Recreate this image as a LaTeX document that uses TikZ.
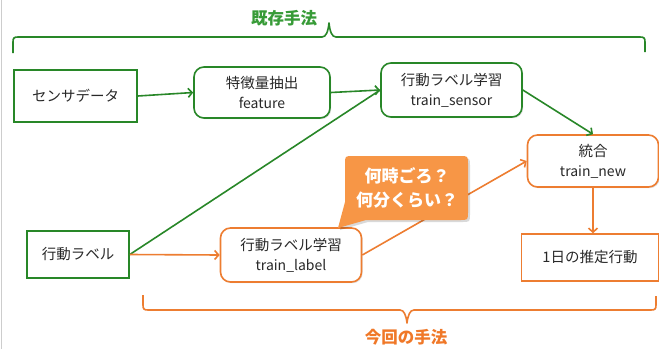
\documentclass[tikz,border=0pt]{standalone}
\usepackage{fontspec}
\setmainfont{Noto Sans CJK JP}
\usetikzlibrary{arrows.meta,shadows}
\definecolor{gline}{RGB}{40,135,40}
\definecolor{gtext}{RGB}{55,155,55}
\definecolor{oline}{RGB}{237,125,49}
\definecolor{ofill}{RGB}{247,150,70}
\definecolor{otext}{RGB}{240,120,40}
\definecolor{txt}{RGB}{40,40,40}
\newcommand{\jp}{\fontsize{14.5}{20}\selectfont}
\newcommand{\lt}{\fontsize{14}{20}\selectfont}
\tikzset{
  box/.style={draw, line width=1.6pt, fill=white, text=txt, align=center, inner sep=0pt,
    font=\jp,
    drop shadow={shadow xshift=1.2pt, shadow yshift=-1.2pt, opacity=0.25}},
  gbox/.style={box, draw=gline},
  obox/.style={box, draw=oline},
  rbox/.style={rounded corners=10pt},
  garrow/.style={draw=gline, line width=1.6pt, -{Straight Barb[length=4pt,width=9pt]}},
  oarrow/.style={draw=oline, line width=1.6pt, -{Straight Barb[length=4pt,width=9pt]}},
  gplain/.style={draw=gline, line width=1.6pt},
  brace/.style={line width=1.6pt, line join=round}
}
\begin{document}
\begin{tikzpicture}[x=1pt,y=-1pt]
\useasboundingbox (0,0) rectangle (659,349);
\fill[white] (0,0) rectangle (659,349);
\draw[line width=1pt, color={rgb,255:red,205;green,205;blue,205}] (1.5,0) -- (1.5,349);

% braces
\draw[brace, gline] (13,53) -- (13,42) .. controls (13,38) and (14,37) .. (18,37) -- (322,37)
  .. controls (326,37) and (328,32) .. (329,23) .. controls (330,32) and (332,37) .. (336,37)
  -- (640,37) .. controls (644,37) and (645,38) .. (645,42) -- (645,52);
\node[text=gtext, font=\fontsize{16.5}{20}\selectfont\bfseries] (t1) at (284,18) {既存手法};

\draw[brace, oline] (143,295) -- (143,305) .. controls (143,309) and (144,310) .. (148,310) -- (400,310)
  .. controls (404,310) and (406,315) .. (407,323) .. controls (408,315) and (410,310) .. (414,310)
  -- (651,310) .. controls (655,310) and (656,309) .. (656,305) -- (656,296);
\node[text=otext, font=\fontsize{16.5}{20}\selectfont\bfseries] (t2) at (406,337) {今回の手法};

% nodes
\node[gbox, minimum width=123pt, minimum height=52pt] (sensor) at (75.5,96) {センサデータ};
\node[gbox, minimum width=102pt, minimum height=47pt] (label) at (78,254.5) {行動ラベル};
\node[gbox, rbox, minimum width=136pt, minimum height=51pt] (feature) at (262,92.5) {特徴量抽出\\\lt feature};
\node[gbox, rbox, minimum width=141pt, minimum height=54pt] (tsensor) at (451.5,90) {行動ラベル学習\\\lt train\_sensor};
\node[obox, rbox, minimum width=131pt, minimum height=52pt] (tnew) at (593,161) {統合\\\lt train\_new};
\node[obox, minimum width=137pt, minimum height=47pt] (day) at (590,257.5) {1日の推定行動};
\node[obox, rbox, minimum width=141pt, minimum height=54pt] (tlabel) at (291,255) {行動ラベル学習\\\lt train\_label};

% connectors
\draw[garrow] (sensor.east) -- (feature.west);
\draw[garrow] (feature.east) -- (tsensor.west);
\draw[gplain] (label.east) -- (tsensor.west);
\draw[garrow] (tsensor.east) -- (tnew.north);
\draw[oarrow] (label.east) -- (tlabel.west);
\draw[oarrow] (tlabel.east) -- (tnew.west);
\draw[oarrow] (tnew.south) -- (tnew.south |- day.north);

% callout
\fill[black, opacity=0.15] (347,158) -- (462,158) .. controls (470,158) and (470,158) .. (470,166)
  -- (470,214) .. controls (470,222) and (470,222) .. (462,222) -- (368,222) -- (340,230) -- (347,204) -- cycle;
\fill[ofill] (353,156) -- (460,156) .. controls (468,156) and (468,156) .. (468,164)
  -- (468,212) .. controls (468,220) and (468,220) .. (460,220) -- (366,220) -- (338,228)
  -- (345,202) -- (345,164) .. controls (345,156) and (345,156) .. (353,156) -- cycle;
\node[text=white, align=center, font=\fontsize{17}{24}\selectfont\bfseries] (q) at (407,188) {何時ごろ？\\何分くらい？};
\end{tikzpicture}
\end{document}
